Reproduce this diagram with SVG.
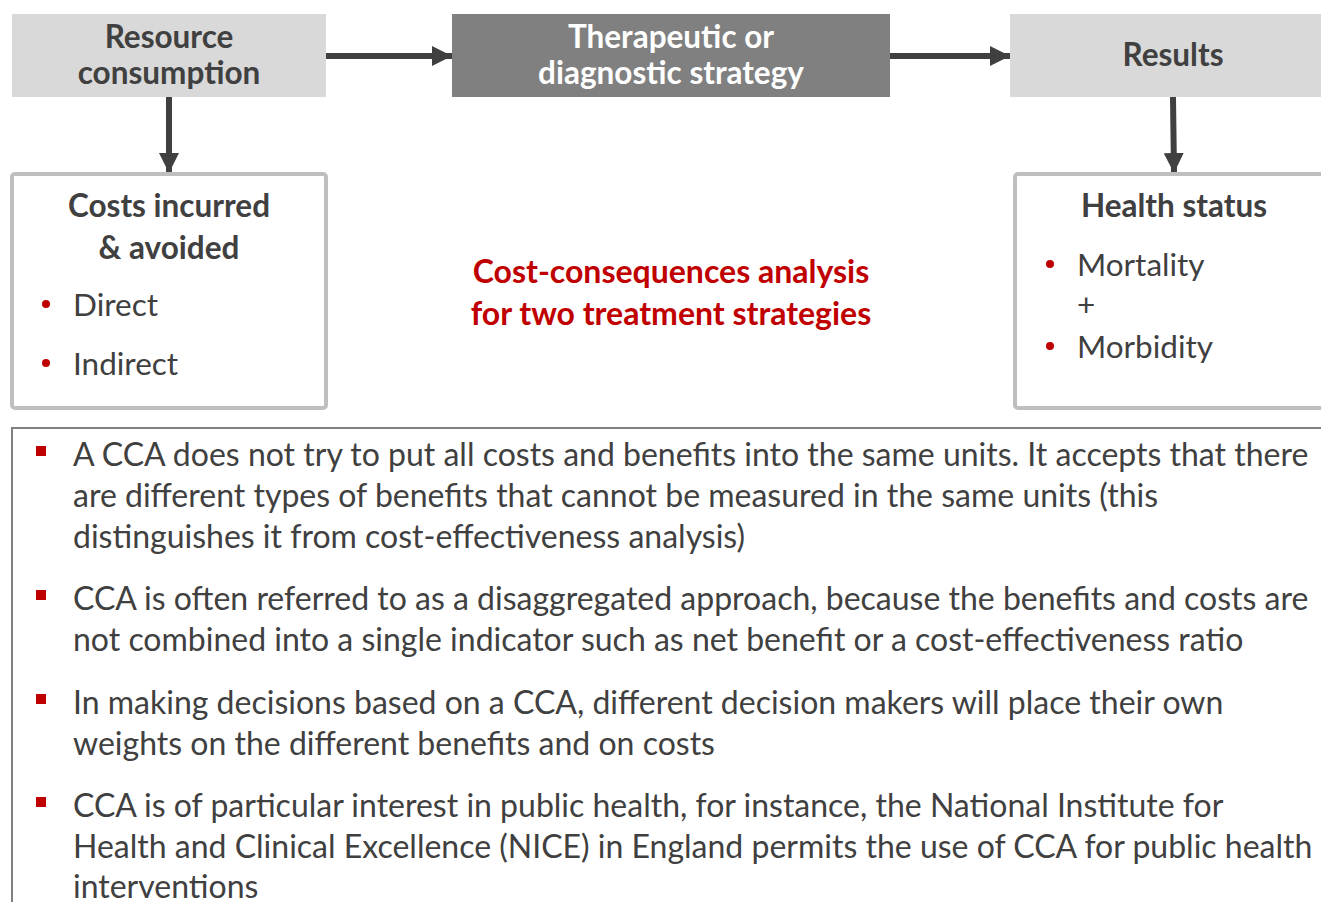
<svg xmlns="http://www.w3.org/2000/svg" width="1321" height="902" viewBox="0 0 1321 902">
<style>
.hd{font-family:Lato,"Liberation Sans",sans-serif;font-weight:bold;font-size:31.5px;fill:#404040;text-anchor:middle}
.hw{fill:#ffffff}
.red{font-family:Lato,"Liberation Sans",sans-serif;font-weight:bold;font-size:32px;fill:#c00000;text-anchor:middle}
.it{font-family:Lato,"Liberation Sans",sans-serif;font-size:31.5px;fill:#404040}
.bt{font-family:Lato,"Liberation Sans",sans-serif;font-size:32px;fill:#404040}
.lg{fill:#d9d9d9}
.dk{fill:#808080}
.ob{fill:#ffffff;stroke:#bfbfbf;stroke-width:4}
.cn{stroke:#404040;stroke-width:6;fill:none}
.dot{fill:#c00000}
</style>
<defs>
<marker id="ah" markerUnits="userSpaceOnUse" markerWidth="20" markerHeight="20" refX="20" refY="10" orient="auto">
<path d="M0,0 L20,10 L0,20 Z" fill="#404040"/>
</marker>
</defs>
<rect width="1321" height="902" fill="#ffffff"/>
<g id="connectors">
<line class="cn" x1="326" y1="56" x2="452" y2="56" marker-end="url(#ah)"/>
<line class="cn" x1="890" y1="56" x2="1010" y2="56" marker-end="url(#ah)"/>
<line class="cn" x1="169" y1="97" x2="169" y2="173" marker-end="url(#ah)"/>
<line class="cn" x1="1173" y1="97" x2="1174" y2="173" marker-end="url(#ah)"/>
</g>
<g id="resource">
<rect class="lg" x="12" y="14" width="314" height="83"/>
<text class="hd" x="169" y="47.5">Resource</text>
<text class="hd" x="169" y="83.5">consumption</text>
</g>
<g id="strategy">
<rect class="dk" x="452" y="14" width="438" height="83"/>
<text class="hd hw" x="671" y="47.5">Therapeutic or</text>
<text class="hd hw" x="671" y="83.5">diagnostic strategy</text>
</g>
<g id="results">
<rect class="lg" x="1010" y="14" width="320" height="83"/>
<text class="hd" x="1173" y="65.5">Results</text>
</g>
<g id="costs">
<rect class="ob" x="12" y="174" width="314" height="234" rx="3"/>
<text class="hd" x="169" y="216.5">Costs incurred</text>
<text class="hd" x="169" y="258.5">&amp; avoided</text>
<circle class="dot" cx="46" cy="304" r="4"/>
<text class="it" x="73" y="316">Direct</text>
<circle class="dot" cx="46" cy="363" r="4"/>
<text class="it" x="73" y="374.5">Indirect</text>
</g>
<g id="health">
<rect class="ob" x="1015" y="174" width="320" height="234" rx="3"/>
<text class="hd" x="1174" y="216.5">Health status</text>
<circle class="dot" cx="1050" cy="264" r="4"/>
<text class="it" x="1077" y="276">Mortality</text>
<text class="it" x="1077" y="316">+</text>
<circle class="dot" cx="1050" cy="346" r="4"/>
<text class="it" x="1077" y="358">Morbidity</text>
</g>
<g id="title">
<text class="red" x="671" y="282.5">Cost-consequences analysis</text>
<text class="red" x="671" y="324.5">for two treatment strategies</text>
</g>
<g id="notes">
<rect x="12" y="428" width="1330" height="490" fill="#ffffff" stroke="#808080" stroke-width="2"/>
<rect class="dot" x="36" y="446" width="10" height="10"/>
<text class="bt" x="73" y="465.5">A CCA does not try to put all costs and benefits into the same units. It accepts that there</text>
<text class="bt" x="73" y="506.5">are different types of benefits that cannot be measured in the same units (this</text>
<text class="bt" x="73" y="547.5">distinguishes it from cost-effectiveness analysis)</text>
<rect class="dot" x="36" y="590" width="10" height="10"/>
<text class="bt" x="73" y="609.5">CCA is often referred to as a disaggregated approach, because the benefits and costs are</text>
<text class="bt" x="73" y="650.5">not combined into a single indicator such as net benefit or a cost-effectiveness ratio</text>
<rect class="dot" x="36" y="694" width="10" height="10"/>
<text class="bt" x="73" y="713.5">In making decisions based on a CCA, different decision makers will place their own</text>
<text class="bt" x="73" y="754.5">weights on the different benefits and on costs</text>
<rect class="dot" x="36" y="797" width="10" height="10"/>
<text class="bt" x="73" y="816.5">CCA is of particular interest in public health, for instance, the National Institute for</text>
<text class="bt" x="73" y="857.5">Health and Clinical Excellence (NICE) in England permits the use of CCA for public health</text>
<text class="bt" x="73" y="897.5">interventions</text>
</g>
</svg>
